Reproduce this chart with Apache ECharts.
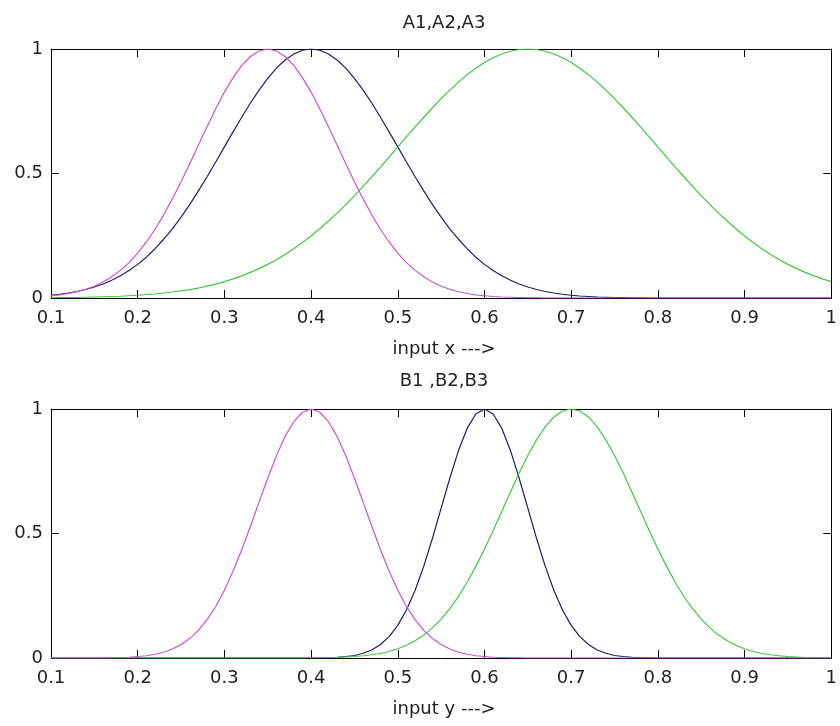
<!DOCTYPE html>
<html>
<head>
<meta charset="utf-8">
<script src="https://cdn.jsdelivr.net/npm/echarts@6/dist/echarts.min.js"></script>
<style>
html,body{margin:0;padding:0;background:#fff;}
#chart{width:840px;height:726px;}
</style>
</head>
<body>
<div id="chart"></div>
<script>
// ---- data ----
const xTicks = [0.1, 0.2, 0.3, 0.4, 0.5, 0.6, 0.7, 0.8, 0.9, 1];
const yTicks = [0, 0.5, 1];
const titleTop = 'A1,A2,A3';
const titleBottom = 'B1 ,B2,B3';
const xLabelTop = 'input x --->';
const xLabelBottom = 'input y --->';

// x samples 0.10 .. 1.00 step 0.01
const xs = [0.10,0.11,0.12,0.13,0.14,0.15,0.16,0.17,0.18,0.19,
            0.20,0.21,0.22,0.23,0.24,0.25,0.26,0.27,0.28,0.29,
            0.30,0.31,0.32,0.33,0.34,0.35,0.36,0.37,0.38,0.39,
            0.40,0.41,0.42,0.43,0.44,0.45,0.46,0.47,0.48,0.49,
            0.50,0.51,0.52,0.53,0.54,0.55,0.56,0.57,0.58,0.59,
            0.60,0.61,0.62,0.63,0.64,0.65,0.66,0.67,0.68,0.69,
            0.70,0.71,0.72,0.73,0.74,0.75,0.76,0.77,0.78,0.79,
            0.80,0.81,0.82,0.83,0.84,0.85,0.86,0.87,0.88,0.89,
            0.90,0.91,0.92,0.93,0.94,0.95,0.96,0.97,0.98,0.99,1.00];

const A1 = [0.009,0.012,0.018,0.025,0.035,0.047,0.064,0.085,0.111,0.142,
            0.180,0.225,0.276,0.334,0.398,0.467,0.539,0.614,0.688,0.760,
            0.827,0.885,0.934,0.970,0.992,1.000,0.992,0.970,0.934,0.885,
            0.827,0.760,0.688,0.614,0.539,0.467,0.398,0.334,0.276,0.225,
            0.180,0.142,0.111,0.085,0.064,0.047,0.035,0.025,0.018,0.012,
            0.009,0.006,0.004,0.003,0.002,0.001,0.001,0,0,0,
            0,0,0,0,0,0,0,0,0,0,
            0,0,0,0,0,0,0,0,0,0,
            0,0,0,0,0,0,0,0,0,0,0];
const A2 = [0.011,0.015,0.020,0.026,0.034,0.044,0.056,0.071,0.089,0.110,
            0.135,0.164,0.198,0.236,0.278,0.325,0.375,0.430,0.487,0.546,
            0.607,0.667,0.726,0.783,0.835,0.882,0.923,0.956,0.980,0.995,
            1.000,0.995,0.980,0.956,0.923,0.882,0.835,0.783,0.726,0.667,
            0.607,0.546,0.487,0.430,0.375,0.325,0.278,0.236,0.198,0.164,
            0.135,0.110,0.089,0.071,0.056,0.044,0.034,0.026,0.020,0.015,
            0.011,0.008,0.006,0.004,0.003,0.002,0.002,0.001,0.001,0,
            0,0,0,0,0,0,0,0,0,0,
            0,0,0,0,0,0,0,0,0,0,0];
const A3 = [0.001,0.002,0.002,0.002,0.003,0.004,0.005,0.006,0.007,0.009,
            0.011,0.014,0.016,0.020,0.024,0.029,0.034,0.040,0.048,0.056,
            0.066,0.077,0.089,0.103,0.118,0.135,0.154,0.175,0.198,0.223,
            0.249,0.278,0.309,0.341,0.375,0.411,0.448,0.487,0.526,0.566,
            0.607,0.647,0.687,0.726,0.764,0.801,0.835,0.867,0.897,0.923,
            0.946,0.965,0.980,0.991,0.998,1.000,0.998,0.991,0.980,0.965,
            0.946,0.923,0.897,0.867,0.835,0.801,0.764,0.726,0.687,0.647,
            0.607,0.566,0.526,0.487,0.448,0.411,0.375,0.341,0.309,0.278,
            0.249,0.223,0.198,0.175,0.154,0.135,0.118,0.103,0.089,0.077,0.066];

const B1 = [0,0,0,0,0,0,0.001,0.001,0.002,0.003,
            0.006,0.009,0.015,0.023,0.036,0.054,0.078,0.111,0.154,0.207,
            0.272,0.349,0.435,0.529,0.626,0.722,0.812,0.890,0.949,0.987,
            1.000,0.987,0.949,0.890,0.812,0.722,0.626,0.529,0.435,0.349,
            0.272,0.207,0.154,0.111,0.078,0.054,0.036,0.023,0.015,0.009,
            0.006,0.003,0.002,0.001,0.001,0,0,0,0,0,
            0,0,0,0,0,0,0,0,0,0,
            0,0,0,0,0,0,0,0,0,0,
            0,0,0,0,0,0,0,0,0,0,0];
const B2 = [0,0,0,0,0,0,0,0,0,0,
            0,0,0,0,0,0,0,0,0,0,
            0,0,0,0,0,0,0,0,0,0,
            0,0.001,0.001,0.003,0.006,0.010,0.019,0.032,0.054,0.086,
            0.131,0.193,0.272,0.369,0.481,0.602,0.722,0.833,0.922,0.980,
            1.000,0.980,0.922,0.833,0.722,0.602,0.481,0.369,0.272,0.193,
            0.131,0.086,0.054,0.032,0.019,0.010,0.006,0.003,0.001,0.001,
            0,0,0,0,0,0,0,0,0,0,
            0,0,0,0,0,0,0,0,0,0,0];
const B3 = [0,0,0,0,0,0,0,0,0,0,
            0,0,0,0,0,0,0,0,0,0,
            0,0,0,0,0,0,0,0,0,0,
            0.001,0.001,0.002,0.002,0.004,0.006,0.009,0.013,0.018,0.026,
            0.037,0.051,0.069,0.092,0.121,0.156,0.198,0.247,0.304,0.368,
            0.438,0.512,0.589,0.667,0.743,0.813,0.876,0.928,0.968,0.992,
            1.000,0.992,0.968,0.928,0.876,0.813,0.743,0.667,0.589,0.512,
            0.438,0.368,0.304,0.247,0.198,0.156,0.121,0.092,0.069,0.051,
            0.037,0.026,0.018,0.013,0.009,0.006,0.004,0.002,0.002,0.001,0.001];

// ---- chart ----
const FONT = 'DejaVu Sans';
const FS = 18;
const MAGENTA = '#d24fd2';
const NAVY = '#1e1e66';
const GREEN = '#3fc83f';

function pairs(ys){ return xs.map((x,i)=>[x, ys[i]]); }

const chart = echarts.init(document.getElementById('chart'), null, {renderer:'canvas'});

const grids = [
  {left:51, right:3, top:49, height:249},
  {left:51, right:3, top:409, height:249}
];

function xAx(gi, pos, showLabel){
  return {
    type:'value', gridIndex:gi, position:pos, min:0.1, max:1, interval:0.1,
    axisLine:{show:true, onZero:false, lineStyle:{color:'#000', width:1}},
    axisTick:{show:true, inside:true, length:8, lineStyle:{color:'#000'}},
    axisLabel:{show:showLabel, color:'#222', fontFamily:FONT, fontSize:FS, margin:11,
      formatter:(v)=>{ const t = xTicks.find(k=>Math.abs(k-v)<1e-6); return t===undefined?'':String(t); }},
    splitLine:{show:false}
  };
}
function yAx(gi, pos, showLabel){
  return {
    type:'value', gridIndex:gi, position:pos, min:0, max:1, interval:0.5,
    axisLine:{show:true, onZero:false, lineStyle:{color:'#000', width:1}},
    axisTick:{show:true, inside:true, length:8, lineStyle:{color:'#000'}},
    axisLabel:{show:showLabel, color:'#222', fontFamily:FONT, fontSize:FS, margin:8,
      formatter:(v)=>{ const t = yTicks.find(k=>Math.abs(k-v)<1e-6); return t===undefined?'':String(t); }},
    splitLine:{show:false}
  };
}

function line(gi, ys, color, z){
  return {
    type:'line', xAxisIndex:gi*2, yAxisIndex:gi*2, data:pairs(ys),
    showSymbol:false, symbol:'none', smooth:false, z:z,
    lineStyle:{color:color, width:1.2}, itemStyle:{color:color},
    animation:false, silent:true
  };
}

function text(str, x, y){
  return {type:'text', x:x, y:y, style:{text:str, fill:'#222', font:FS+'px "'+FONT+'"', textAlign:'center', textVerticalAlign:'middle'}};
}

const cx = 51 + (837-51)/2;

chart.setOption({
  animation:false,
  backgroundColor:'#fff',
  grid:grids,
  xAxis:[xAx(0,'bottom',true), xAx(0,'top',false), xAx(1,'bottom',true), xAx(1,'top',false)],
  yAxis:[yAx(0,'left',true), yAx(0,'right',false), yAx(1,'left',true), yAx(1,'right',false)],
  series:[
    line(0, A2, NAVY, 2), line(0, A3, GREEN, 3), line(0, A1, MAGENTA, 4),
    line(1, B2, NAVY, 2), line(1, B3, GREEN, 3), line(1, B1, MAGENTA, 4)
  ],
  graphic:[
    text(titleTop, cx, 23),
    text(xLabelTop, cx, 349),
    text(titleBottom, cx, 381),
    text(xLabelBottom, cx, 709)
  ]
});
</script>
</body>
</html>
